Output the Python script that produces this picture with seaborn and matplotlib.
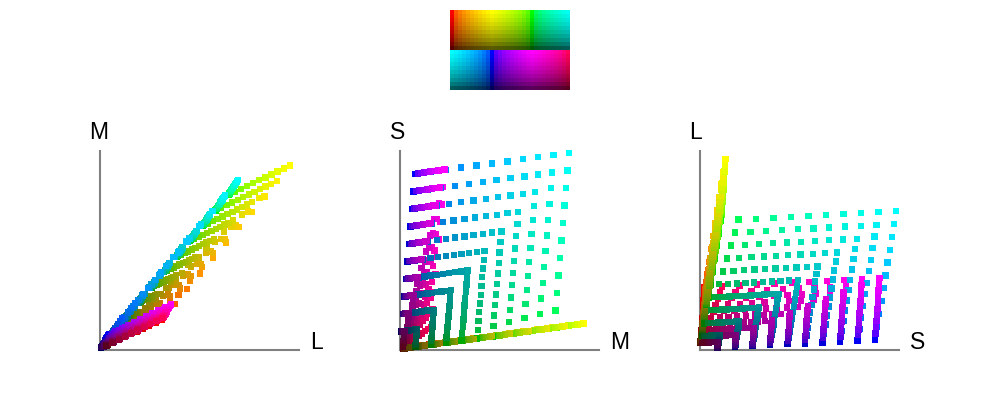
"""Cone response (L, M, S) of a hue / value colour grid, with the swatch on top."""
import matplotlib
matplotlib.use("Agg")
import matplotlib.pyplot as plt
from matplotlib.colors import ListedColormap, to_rgb, to_hex
import numpy as np
import pandas as pd
import seaborn as sns

# 60 hue columns of the swatch, read at full brightness
hue_colors = [
    "#ff0000", "#ff5900", "#ff7b00", "#ff9400", "#ffa800", "#ffba00", "#ffca00", "#ffd900", "#ffe700", "#fff300",
    "#ffff00", "#f3ff00", "#e7ff00", "#d9ff00", "#caff00", "#baff00", "#a8ff00", "#94ff00", "#7bff00", "#59ff00",
    "#00ff00", "#00ff59", "#00ff7b", "#00ff94", "#00ffa8", "#00ffba", "#00ffca", "#00ffd9", "#00ffe7", "#00fff3",
    "#00ffff", "#00f3ff", "#00e7ff", "#00d9ff", "#00caff", "#00baff", "#00a8ff", "#0094ff", "#007bff", "#0059ff",
    "#0000ff", "#5900ff", "#7b00ff", "#9400ff", "#a800ff", "#ba00ff", "#ca00ff", "#d900ff", "#e700ff", "#f300ff",
    "#ff00ff", "#ff00f3", "#ff00e7", "#ff00d9", "#ff00ca", "#ff00ba", "#ff00a8", "#ff0094", "#ff007b", "#ff0059",
]

# response of each hue at full brightness
hue_L = [
    .308, .372, .436, .501, .565, .629, .693, .757, .822, .886,
    .950, .919, .888, .858, .827, .796, .765, .734, .704, .673,
    .642, .647, .651, .656, .661, .666, .670, .675, .680, .684,
    .689, .625, .561, .496, .432, .368, .304, .240, .175, .111,
    .047, .078, .109, .139, .170, .201, .232, .263, .293, .324,
    .355, .350, .346, .341, .336, .332, .327, .322, .317, .313,
]
hue_M = [
    .147, .224, .301, .378, .455, .532, .609, .686, .763, .840,
    .917, .902, .888, .873, .858, .844, .829, .814, .799, .785,
    .770, .778, .785, .793, .800, .808, .815, .823, .830, .838,
    .845, .768, .691, .614, .537, .460, .383, .306, .229, .152,
    .075, .090, .104, .119, .134, .149, .163, .178, .193, .207,
    .222, .215, .207, .200, .192, .185, .177, .170, .162, .155,
]
hue_S = [
    .023, .034, .044, .055, .065, .076, .086, .097, .107, .118,
    .128, .126, .123, .121, .119, .117, .114, .112, .110, .107,
    .105, .193, .280, .368, .455, .543, .630, .718, .805, .893,
    .980, .970, .959, .949, .938, .928, .917, .907, .896, .886,
    .875, .877, .880, .882, .884, .887, .889, .891, .893, .896,
    .898, .811, .723, .636, .548, .461, .373, .286, .198, .111,
]

# the 10 brightness rows: how far each one scales the response, and how it looks
row_levels = [1.0, .9, .8, .7, .6, .5, .4, .3, .2, .1]
row_shades = [1.0, .953, .904, .850, .793, .730, .660, .580, .481, .351]

# x, y and the order the points are stacked in
panels = [("L", "M", ["hue_col", "row"]), ("M", "S", ["row", "hue_col"]), ("S", "L", ["row", "hue_col"])]

sns.set_style("white")
plt.rcParams["font.family"] = ["Liberation Sans", "DejaVu Sans"]

# one row per swatch cell
rows = []
for col, base in enumerate(hue_colors):
    for row, (level, shade) in enumerate(zip(row_levels, row_shades)):
        rows.append({
            "L": hue_L[col] * level,
            "M": hue_M[col] * level,
            "S": hue_S[col] * level,
            "hue_col": col,
            "row": row,
            "color": to_hex(np.array(to_rgb(base)) * shade),
        })
df = pd.DataFrame(rows)
palette = {c: c for c in df["color"].unique()}

W, H = 1000, 400
fig = plt.figure(figsize=(W / 100, H / 100), dpi=100, facecolor="white")

# swatch: two blocks of 30 x 10 cells stacked
in_order = df.sort_values(["row", "hue_col"])
top = in_order[in_order["hue_col"] < 30]["color"].tolist()
bottom = in_order[in_order["hue_col"] >= 30]["color"].tolist()
cells = np.arange(600).reshape(20, 30)
ax_sw = fig.add_axes([450 / W, 1 - 90 / H, 120 / W, 80 / H])
sns.heatmap(cells, ax=ax_sw, cmap=ListedColormap(top + bottom), cbar=False,
            xticklabels=False, yticklabels=False, linewidths=0, square=False)

# scatter panels, 200 px per unit, data origin at x0 / y=349
for x0, (xname, yname, stacking) in zip([100, 400, 700], panels):
    ax = fig.add_axes([x0 / W, 1 - 349.7 / H, 199 / W, 198.7 / H])
    sns.scatterplot(data=df.sort_values(stacking), x=xname, y=yname, hue="color", palette=palette,
                    marker="s", s=21, linewidth=0, legend=False, clip_on=False,
                    ax=ax, zorder=3)
    ax.set_xlim(0, .995)
    ax.set_ylim(-.0035, .99)
    ax.set_xticks([])
    ax.set_yticks([])
    ax.set_xlabel("")
    ax.set_ylabel("")
    ax.patch.set_alpha(0)
    ax.spines[["top", "right"]].set_visible(False)
    for side in ["left", "bottom"]:
        ax.spines[side].set_color("#808080")
        ax.spines[side].set_linewidth(1.5)
    fig.text((x0 + 210) / W, 1 - 349.3 / H, xname, fontsize=16.5, ha="left", va="baseline", color="black")
    fig.text((x0 - 10.5) / W, 1 - 139.3 / H, yname, fontsize=16.5, ha="left", va="baseline", color="black")

fig.savefig("out.png", dpi=100, facecolor="white")
